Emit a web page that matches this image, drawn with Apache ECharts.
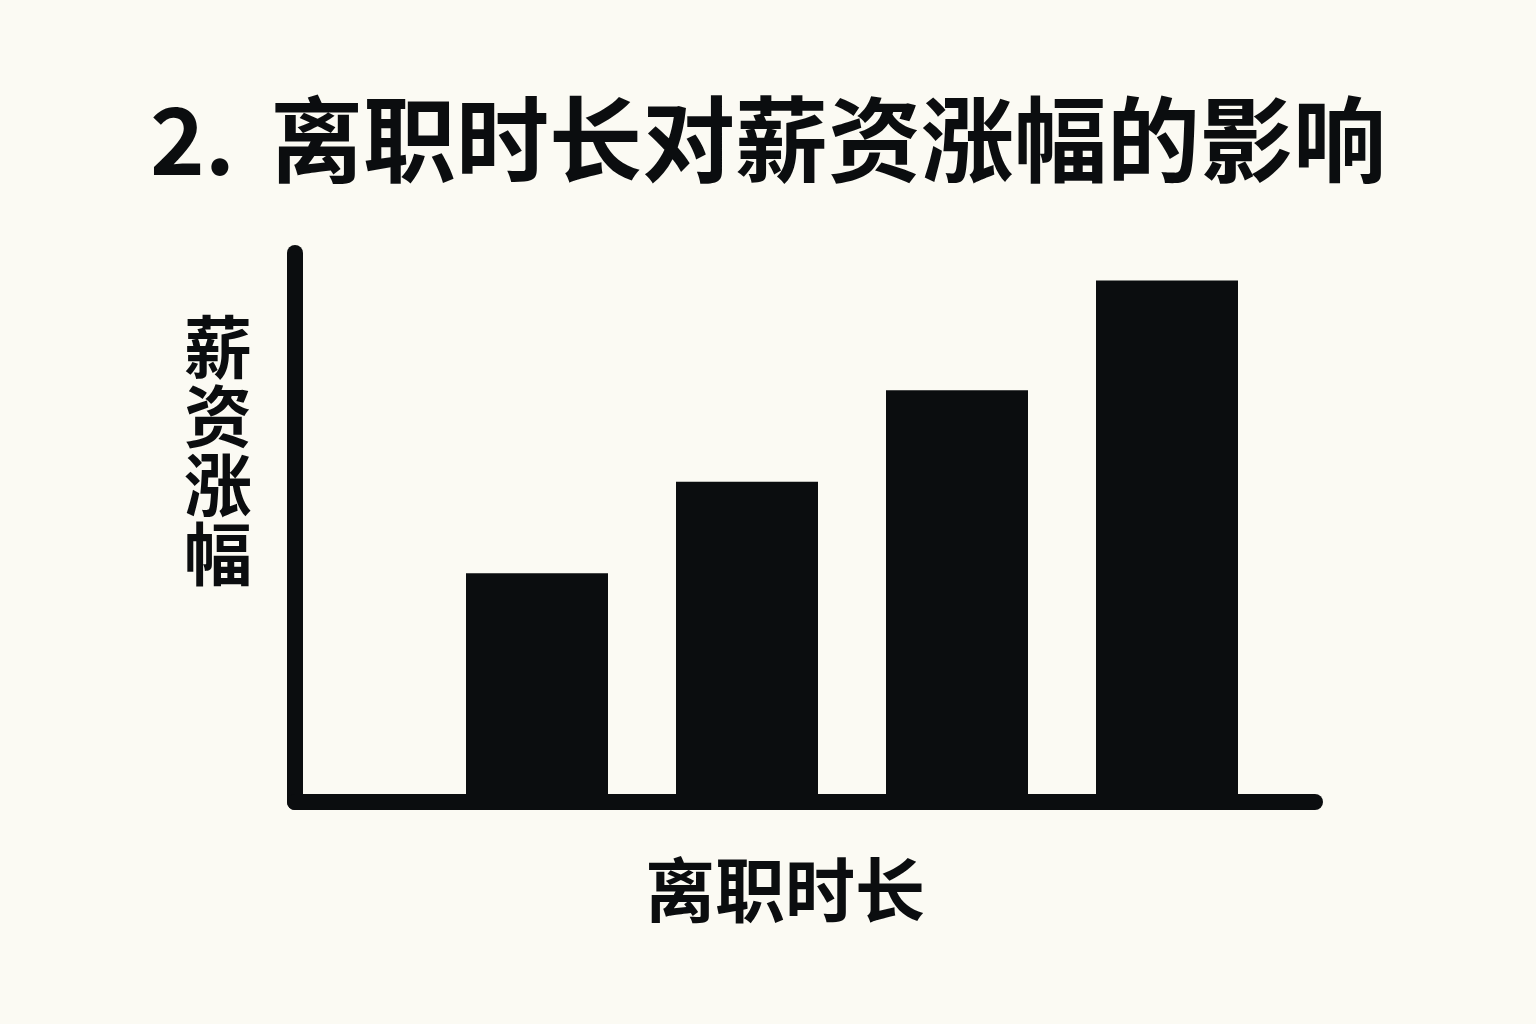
<!DOCTYPE html>
<html>
<head>
<meta charset="utf-8">
<title>离职时长对薪资涨幅的影响</title>
<script src="https://cdn.jsdelivr.net/npm/echarts@6/dist/echarts.min.js"></script>
<style>
    html, body { margin: 0; padding: 0; background: #FBFAF3; }
    #main { width: 1536px; height: 1024px; }
</style>
</head>
<body>
<div id="main"></div>
<script>
// 数据（图中无刻度，数值按柱高估算）
var categories = ['1个月以内', '1-3个月', '3-6个月', '6个月以上'];
var raiseValues = [2.5, 3.5, 4.5, 5.7];
var yMax = 6;

var ink = '#0B0D0F';
var font = '"Noto Sans CJK SC", "Noto Sans", sans-serif';

var myChart = echarts.init(document.getElementById('main'));
var option = {
    backgroundColor: '#FBFAF3',
    title: [{
        text: '{n|2.} 离职时长对薪资涨幅的影响',
        left: 'center',
        top: 88,
        textStyle: {
            color: ink,
            fontFamily: font,
            fontWeight: 'bold',
            fontSize: 93,
            rich: {
                n: {
                    color: ink,
                    fontFamily: font,
                    fontWeight: 'bold',
                    fontSize: 93,
                    padding: [0, 14, 0, 0]
                }
            }
        }
    }, {
        // 纵轴名称（竖排）
        text: '薪\n资\n涨\n幅',
        left: 184,
        top: 313,
        padding: 0,
        textStyle: {
            color: ink,
            fontFamily: font,
            fontWeight: 'bold',
            fontSize: 68,
            lineHeight: 69
        }
    }],
    grid: [
        // 柱子所在区域
        { left: 432, right: 264, top: 253, bottom: 222 },
        // 坐标轴线区域
        { left: 295, right: 221, top: 253, bottom: 222 }
    ],
    xAxis: [{
        gridIndex: 0,
        type: 'category',
        data: categories,
        axisLine: { show: false },
        axisTick: { show: false },
        axisLabel: { show: false }
    }, {
        gridIndex: 1,
        type: 'value',
        min: 0,
        max: 1,
        name: '离职时长',
        nameLocation: 'middle',
        nameGap: 53,
        nameTextStyle: {
            color: ink,
            fontFamily: font,
            fontWeight: 'bold',
            fontSize: 70,
            padding: [0, 40, 0, 0]
        },
        axisLine: { show: true, lineStyle: { color: ink, width: 16, cap: 'round' } },
        axisTick: { show: false },
        axisLabel: { show: false },
        splitLine: { show: false }
    }],
    yAxis: [{
        gridIndex: 0,
        type: 'value',
        min: 0,
        max: yMax,
        axisLine: { show: false },
        axisTick: { show: false },
        axisLabel: { show: false },
        splitLine: { show: false }
    }, {
        gridIndex: 1,
        type: 'value',
        min: 0,
        max: 1,
        axisLine: { show: true, lineStyle: { color: ink, width: 16, cap: 'round' } },
        axisTick: { show: false },
        axisLabel: { show: false },
        splitLine: { show: false }
    }],
    series: [{
        type: 'bar',
        xAxisIndex: 0,
        yAxisIndex: 0,
        data: raiseValues,
        barWidth: 142,
        itemStyle: { color: ink },
        silent: true
    }]
};
myChart.setOption(option);
</script>
</body>
</html>
